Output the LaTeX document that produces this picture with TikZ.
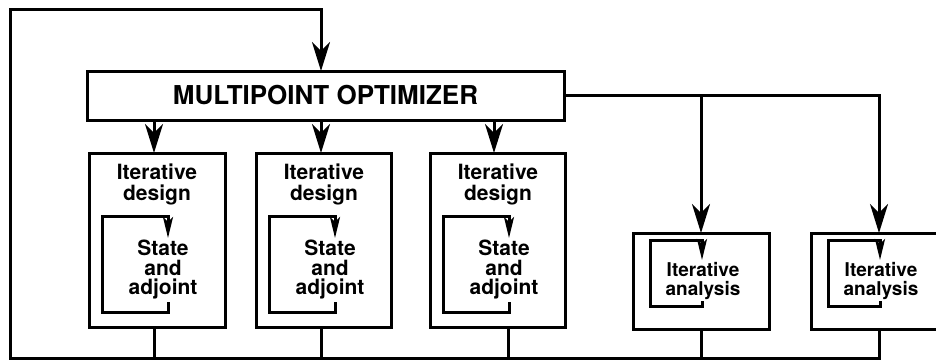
\documentclass[tikz,border=0pt]{standalone}
\usepackage{fontspec}
\setmainfont{TeX Gyre Heros}
\usetikzlibrary{arrows.meta,calc}
\tikzset{
  ln/.style={line width=3pt, line join=miter},
  box/.style={draw, rectangle, line width=3pt, inner sep=0pt, outer sep=0pt},
  bigarr/.style={ln, -{Stealth[length=29pt,width=18pt,inset=9pt]}},
  smallarr/.style={ln, -{Stealth[length=21pt,width=10pt,inset=5pt]}},
  opttxt/.style={font=\bfseries\fontsize{26}{26}\selectfont},
  dtxt/.style={align=center, inner sep=0pt, font=\bfseries\fontsize{21}{20.5}\selectfont},
  stxt/.style={align=center, inner sep=0pt, font=\bfseries\fontsize{21}{19.5}\selectfont},
  atxt/.style={align=center, inner sep=0pt, font=\bfseries\fontsize{19}{19.5}\selectfont},
}
\begin{document}
\begin{tikzpicture}[x=1pt,y=-1pt]
\useasboundingbox (0,0) rectangle (936,361);
\fill[white] (0,0) rectangle (936,361);
\clip (0,0) rectangle (936,361);

% optimizer
\node[box, minimum width=477pt, minimum height=49pt, opttxt] (opt) at (325.5,95.5) {MULTIPOINT OPTIMIZER};

% design boxes
\node[box, minimum width=136pt, minimum height=174pt] (d1) at (157,240) {};
\node[box, minimum width=135pt, minimum height=174pt] (d2) at (324,240) {};
\node[box, minimum width=135pt, minimum height=174pt] (d3) at (498,240) {};

\foreach \b in {d1,d2,d3}{
  \node[dtxt] (\b t) at ($(\b.center)+(0,-55.5)$) {Iterative\\design};
  \node[stxt] (\b s) at ($(\b.center)+(6,30)$) {State\\and\\adjoint};
  \draw[smallarr] ($(\b.center)+(11,62)$) -- ($(\b.center)+(11,72)$)
     -- ($(\b.center)+(-55,72)$) -- ($(\b.center)+(-55,-24)$)
     -- ($(\b.center)+(11,-24)$) -- ($(\b.center)+(11,-2)$);
}

% analysis boxes
\node[box, minimum width=136pt, minimum height=96pt] (a1) at (701,281) {};
\node[box, minimum width=136pt, minimum height=96pt] (a2) at (879,281) {};
\foreach \b in {a1,a2}{
  \node[atxt] (\b t) at ($(\b.center)+(2,0)$) {Iterative\\analysis};
  \draw[smallarr] ($(\b.center)+(1,20)$) -- ($(\b.center)+(1,25)$)
     -- ($(\b.center)+(-51,25)$) -- ($(\b.center)+(-51,-41)$)
     -- ($(\b.center)+(1,-41)$) -- ($(\b.center)+(1,-21)$);
}

% feedback loop
\coordinate (bl) at (10,358);
\coordinate (tl) at (10,10);
\draw[bigarr] (a2.south) |- (bl) -- (tl) -| ([xshift=-4.5pt]opt.north);
\draw[ln] ([xshift=-3pt]d1.south) -- ([xshift=-3pt]d1.south |- bl);
\draw[ln] ([xshift=-3pt]d2.south) -- ([xshift=-3pt]d2.south |- bl);
\draw[ln] ([xshift=10pt]d3.south) -- ([xshift=10pt]d3.south |- bl);
\draw[ln] (a1.south) -- (a1.south |- bl);

% optimizer to boxes
\draw[bigarr] ([xshift=-3pt]d1.north |- opt.south) -- ([xshift=-3pt]d1.north);
\draw[bigarr] ([xshift=-3pt]d2.north |- opt.south) -- ([xshift=-3pt]d2.north);
\draw[bigarr] ([xshift=-4pt]d3.north |- opt.south) -- ([xshift=-4pt]d3.north);
\draw[bigarr] (opt.east) -| (a2.north);
\draw[bigarr] (a1.north |- opt.east) -- (a1.north);
\end{tikzpicture}
\end{document}
